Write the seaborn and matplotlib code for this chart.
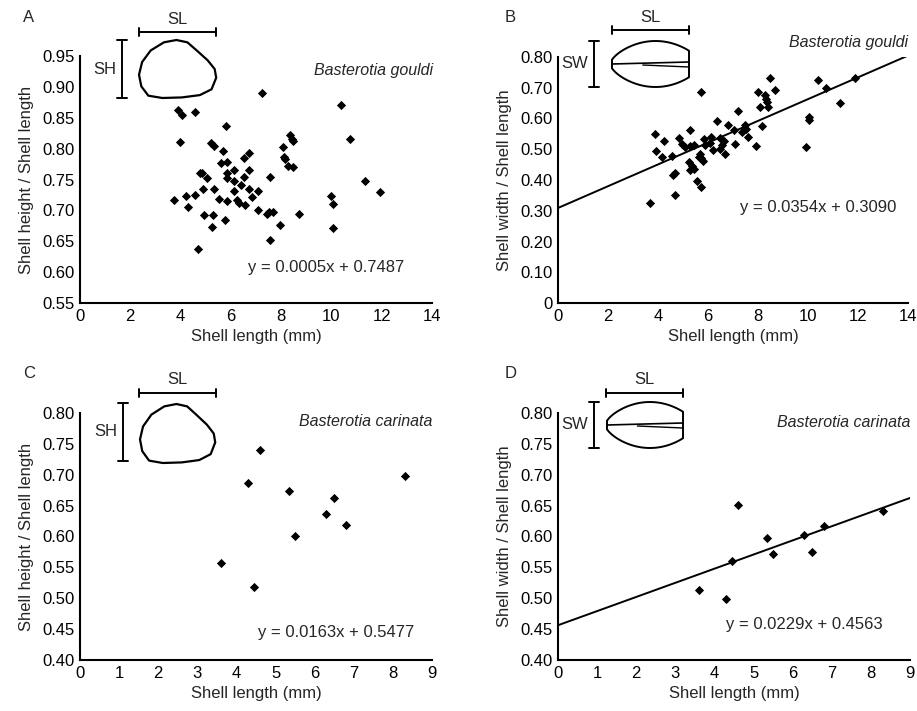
import numpy as np
import pandas as pd
import matplotlib
matplotlib.use("Agg")
import matplotlib.pyplot as plt
import seaborn as sns
from matplotlib.patches import Polygon
from matplotlib.lines import Line2D

sns.set_style("white")
plt.rcParams['font.family'] = ['Liberation Sans', 'DejaVu Sans']

# Panel A: B. gouldi, shell height / length
a_x = [7.24,10.4,3.91,4.07,4.57,5.8,3.97,10.73,5.2,5.33,8.37,8.43,8.48,8.07,5.67,6.73,6.51,8.11,8.17,5.6,5.84,
       8.29,8.47,4.77,4.87,5.04,5.84,6.13,6.73,6.53,5.84,6.13,6.4,7.55,11.33,4.91,5.31,6.13,6.73,7.09,6.84,3.73,
       4.2,4.57,5.53,5.84,6.24,6.31,6.56,9.97,10.07,11.93,4.29,7.07,4.93,5.27,7.44,7.53,7.67,8.71,5.76,5.24,
       7.96,10.07,7.55,4.71]
a_y = [0.890,0.871,0.862,0.855,0.859,0.837,0.811,0.815,0.809,0.804,0.822,0.816,0.813,0.802,0.796,0.793,0.785,
       0.787,0.783,0.776,0.778,0.772,0.771,0.760,0.761,0.752,0.761,0.765,0.765,0.754,0.752,0.747,0.741,0.754,
       0.747,0.734,0.734,0.731,0.734,0.731,0.722,0.716,0.723,0.725,0.718,0.715,0.717,0.712,0.709,0.723,0.711,
       0.730,0.706,0.701,0.693,0.693,0.694,0.697,0.697,0.694,0.685,0.673,0.677,0.671,0.652,0.638]

# Panel B: B. gouldi, shell width / length
b_x = [5.72,8.47,10.4,10.72,11.89,8.67,8.0,8.29,8.33,8.36,8.4,8.07,11.29,10.03,10.03,9.93,8.16,7.2,6.36,6.8,
       7.49,7.53,7.36,7.59,7.03,7.09,7.92,5.29,3.89,4.23,3.93,4.16,4.56,4.6,4.69,4.83,4.96,5.09,5.29,5.45,
       5.83,6.13,6.09,5.89,6.49,6.63,6.56,6.2,6.49,6.69,5.69,5.72,5.8,5.63,5.23,5.36,5.45,5.29,5.56,5.72,3.69,4.69]
b_y = [0.686,0.732,0.724,0.700,0.732,0.693,0.686,0.675,0.664,0.653,0.639,0.637,0.650,0.604,0.596,0.507,0.574,
       0.626,0.591,0.579,0.580,0.566,0.555,0.539,0.563,0.517,0.512,0.563,0.550,0.528,0.493,0.474,0.479,0.417,
       0.422,0.537,0.517,0.507,0.509,0.514,0.534,0.541,0.520,0.515,0.536,0.528,0.514,0.498,0.501,0.485,0.485,
       0.472,0.461,0.474,0.458,0.444,0.436,0.433,0.396,0.376,0.326,0.351]

# Panels C/D: B. carinata
c_x = [3.6,4.3,4.45,4.6,5.35,5.5,6.3,6.5,6.8,8.3]
c_y = [0.557,0.687,0.518,0.740,0.674,0.601,0.636,0.662,0.618,0.698]
d_x = [3.6,4.3,4.45,4.6,5.35,5.5,6.3,6.5,6.8,8.3]
d_y = [0.513,0.499,0.561,0.651,0.598,0.571,0.603,0.575,0.617,0.642]

W, H = 917, 711
fig = plt.figure(figsize=(W/100, H/100), dpi=100)

def axes_px(l, r, t, b):
    return fig.add_axes([l/W, 1-b/H, (r-l)/W, (b-t)/H])

axA = axes_px(80, 432, 56, 303)
axB = axes_px(558, 908, 57, 303)
axC = axes_px(80, 432, 413, 660)
axD = axes_px(558, 910, 413, 660)

def scatter(ax, x, y):
    sns.scatterplot(x=x, y=y, ax=ax, marker='D', s=22, color='black', edgecolor='black', linewidth=0)

scatter(axA, a_x, a_y)
scatter(axB, b_x, b_y)
scatter(axC, c_x, c_y)
scatter(axD, d_x, d_y)

def regline(ax, slope, icpt, xmax):
    xs = np.array([0, xmax])
    sns.lineplot(x=xs, y=slope*xs+icpt, ax=ax, color='black', linewidth=1.4)

regline(axB, 0.0354, 0.3090, 14)
regline(axD, 0.0229, 0.4563, 9)

def style(ax, xlim, xt, ylim, yt, yfmt, ylabel):
    ax.set_xlim(*xlim); ax.set_ylim(*ylim)
    ax.set_xticks(xt); ax.set_yticks(yt)
    ax.set_xticklabels([str(v) for v in xt])
    ax.set_yticklabels([yfmt(v) for v in yt])
    for s in ['top', 'right']:
        ax.spines[s].set_visible(False)
    for s in ['left', 'bottom']:
        ax.spines[s].set_color('black'); ax.spines[s].set_linewidth(1.5)
    ax.tick_params(direction='in', length=3, width=1, labelsize=12, colors='black', pad=4)
    ax.set_xlabel('Shell length (mm)', fontsize=12, labelpad=4)
    ax.set_ylabel(ylabel, fontsize=12, labelpad=6)
    ax.set_facecolor('white')

style(axA, (0, 14), list(range(0, 15, 2)), (0.55, 0.95), [0.55,0.60,0.65,0.70,0.75,0.80,0.85,0.90,0.95],
      lambda v: f"{v:.2f}", 'Shell height / Shell length')
style(axB, (0, 14), list(range(0, 15, 2)), (0, 0.80), [0,0.1,0.2,0.3,0.4,0.5,0.6,0.7,0.8],
      lambda v: "0" if v == 0 else f"{v:.2f}", 'Shell width / Shell length')
style(axC, (0, 9), list(range(0, 10)), (0.40, 0.80), [0.40,0.45,0.50,0.55,0.60,0.65,0.70,0.75,0.80],
      lambda v: f"{v:.2f}", 'Shell height / Shell length')
style(axD, (0, 9), list(range(0, 10)), (0.40, 0.80), [0.40,0.45,0.50,0.55,0.60,0.65,0.70,0.75,0.80],
      lambda v: f"{v:.2f}", 'Shell width / Shell length')

axA.text(9.8, 0.607, 'y = 0.0005x + 0.7487', ha='center', va='center', fontsize=12)
axB.text(7.28, 0.309, 'y = 0.0354x + 0.3090', ha='left', va='center', fontsize=12)
axC.text(6.55, 0.444, 'y = 0.0163x + 0.5477', ha='center', va='center', fontsize=12)
axD.text(6.3, 0.457, 'y = 0.0229x + 0.4563', ha='center', va='center', fontsize=12)

def ftext(px, py, s, **kw):
    fig.text(px/W, 1-py/H, s, **kw)

ftext(433, 70, 'Basterotia gouldi', ha='right', va='center', fontsize=11.5, style='italic')
ftext(908, 43, 'Basterotia gouldi', ha='right', va='center', fontsize=11.5, style='italic')
ftext(432, 422, 'Basterotia carinata', ha='right', va='center', fontsize=11.5, style='italic')
ftext(910, 423, 'Basterotia carinata', ha='right', va='center', fontsize=11.5, style='italic')

for px, py, s in [(23, 18, 'A'), (505, 18, 'B'), (23, 373, 'C'), (505, 373, 'D')]:
    ftext(px, py, s, ha='left', va='center', fontsize=12)

def fline(xs, ys, lw=1.4):
    fig.add_artist(Line2D([x/W for x in xs], [1-y/H for y in ys], color='black', lw=lw))

def hbar(x0, x1, y, label):
    fline([x0, x1], [y, y])
    fline([x0, x0], [y-4, y+4]); fline([x1, x1], [y-4, y+4])
    ftext((x0+x1)/2, y-13, label, ha='center', va='center', fontsize=12)

def vbar(x, y0, y1, label):
    fline([x, x], [y0, y1])
    fline([x-5, x+5], [y0, y0]); fline([x-5, x+5], [y1, y1])
    ftext(x-6, (y0+y1)/2, label, ha='right', va='center', fontsize=12)

# lateral outline (unit coords 0..1, y down)
lat = [(0.03,0.80),(0.0,0.60),(0.04,0.38),(0.15,0.18),(0.32,0.04),(0.48,0.0),(0.62,0.04),(0.74,0.18),
       (0.88,0.35),(0.97,0.50),(0.99,0.65),(0.93,0.85),(0.78,0.95),(0.55,0.99),(0.30,1.0),(0.12,0.96)]
def shell_lat(x0, x1, y0, y1):
    pts = [((x0+(x1-x0)*u)/W, 1-(y0+(y1-y0)*v)/H) for u, v in lat]
    fig.add_artist(Polygon(pts, closed=True, fill=False, edgecolor='black', lw=1.6, joinstyle='round'))

def shell_top(x0, x1, y0, y1):
    t = np.linspace(0, 1, 40)
    cx0 = x0; hw = (x1-x0); hh = (y1-y0)/2; cy = (y0+y1)/2
    xs = cx0 + hw*t
    prof = np.sin(np.pi*np.clip(t*0.85+0.02, 0, 1))**0.6
    up = cy - hh*prof
    dn = cy + hh*prof
    pts = [(x/W, 1-y/H) for x, y in zip(xs, up)] + [(x/W, 1-y/H) for x, y in zip(xs[::-1], dn[::-1])]
    fig.add_artist(Polygon(pts, closed=True, fill=False, edgecolor='black', lw=1.4))
    fline([x0, x1], [cy, cy-2], lw=1.2); fline([x0 + (x1-x0)*0.4, x1], [cy+1, cy+3], lw=1.0)

# Panel A inset
hbar(139, 216, 32, 'SL'); vbar(122, 40, 98, 'SH'); shell_lat(139, 217, 40, 98)
# Panel B inset
hbar(612, 689, 30, 'SL'); vbar(594, 41, 87, 'SW'); shell_top(612, 689, 41, 87)
# Panel C inset
hbar(139, 216, 393, 'SL'); vbar(123, 403, 461, 'SH'); shell_lat(140, 216, 404, 463)
# Panel D inset
hbar(606, 683, 393, 'SL'); vbar(594, 402, 448, 'SW'); shell_top(607, 683, 402, 448)

fig.savefig('out.png', dpi=100, facecolor='white')
